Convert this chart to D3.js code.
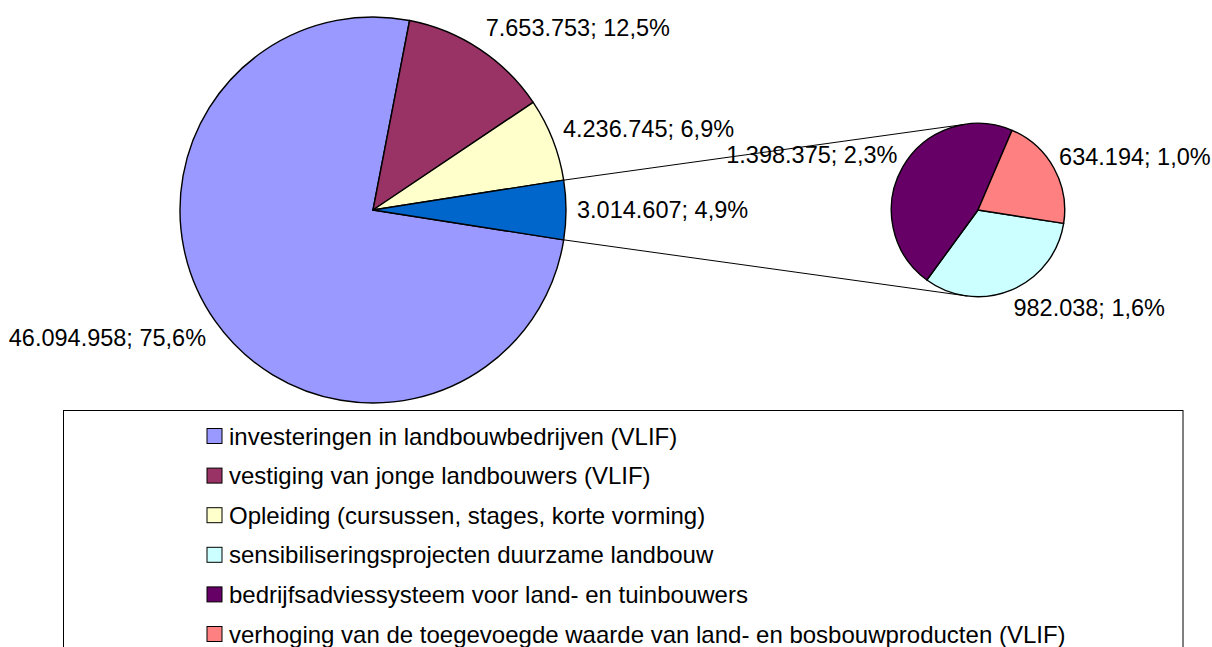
<!DOCTYPE html>
<html>
<head>
<meta charset="utf-8">
<script src="https://cdn.jsdelivr.net/npm/d3@7"></script>
<style>
  body { margin: 0; background: #fff; }
  svg { display: block; font-family: "Liberation Sans", Arial, sans-serif; }
</style>
</head>
<body>
<svg id="chart"></svg>
<script>
// main pie categories (the last one is the "other" slice split into the small pie)
const mainCategories = [
    "investeringen in landbouwbedrijven (VLIF)",
    "vestiging van jonge landbouwers (VLIF)",
    "Opleiding (cursussen, stages, korte vorming)"
];
const mainValues = [46094958, 7653753, 4236745];
const mainColors = ["#9999FF", "#993366", "#FFFFCC"];
const otherColor = "#0066CC";

const subCategories = [
    "sensibiliseringsprojecten duurzame landbouw",
    "bedrijfsadviessysteem voor land- en tuinbouwers",
    "verhoging van de toegevoegde waarde van land- en bosbouwproducten (VLIF)"
];
const subValues = [982038, 1398375, 634194];
const subColors = ["#CCFFFF", "#660066", "#FF8080"];

const width = 1212, height = 647;
const svg = d3.select("#chart").attr("width", width).attr("height", height);

const nl = d3.formatLocale({decimal: ",", thousands: ".", grouping: [3], currency: ["€", ""]});
const fmtNum = nl.format(",.0f");
const fmtPct = nl.format(".1%");

const otherValue = d3.sum(subValues);
const total = d3.sum(mainValues) + otherValue;

const mainData = mainValues.map((v, i) => ({value: v, color: mainColors[i]}));
mainData.push({value: otherValue, color: otherColor});
const subData = subValues.map((v, i) => ({value: v, color: subColors[i]}));

const otherFrac = otherValue / total;
const start = Math.PI / 2 + Math.PI * otherFrac;

const mainPie = d3.pie().sort(null).value(d => d.value).startAngle(start).endAngle(start + 2 * Math.PI);
const subPie = d3.pie().sort(null).value(d => d.value).startAngle(start).endAngle(start + 2 * Math.PI);

const main = {cx: 373, cy: 210, r: 193, offset: 11};
const sub = {cx: 978, cy: 210, r: 86.7, offset: 6};

const fontSize = 23.5;

function drawPie(cfg, arcs) {
    const g = svg.append("g").attr("transform", `translate(${cfg.cx},${cfg.cy})`);
    const arc = d3.arc().innerRadius(0).outerRadius(cfg.r);
    g.selectAll("path")
        .data(arcs)
        .join("path")
        .attr("d", arc)
        .attr("fill", d => d.data.color)
        .attr("stroke", "#000")
        .attr("stroke-width", 1.4)
        .attr("stroke-linejoin", "round");
    return g;
}

function drawLabels(cfg, arcs) {
    const boxH = fontSize * 1.05;
    svg.append("g").selectAll("text")
        .data(arcs)
        .join("text")
        .attr("font-size", fontSize)
        .attr("fill", "#000")
        .each(function(d) {
            const a = (d.startAngle + d.endAngle) / 2;
            const rr = cfg.r + cfg.offset;
            const px = cfg.cx + rr * Math.sin(a);
            const py = cfg.cy - rr * Math.cos(a);
            const c = Math.max(-1, Math.min(1, Math.cos(a) * 1.5));
            d3.select(this)
                .attr("x", px)
                .attr("y", py - c * boxH / 2)
                .attr("dy", "0.36em")
                .attr("text-anchor", Math.sin(a) >= 0 ? "start" : "end")
                .text(`${fmtNum(d.data.value)}; ${fmtPct(d.data.value / total)}`);
        });
}

const mainArcs = mainPie(mainData);
const subArcs = subPie(subData);

// connector lines between the "other" slice and the small pie
const otherArc = mainArcs[mainArcs.length - 1];
const pt = (cfg, a) => [cfg.cx + cfg.r * Math.sin(a), cfg.cy - cfg.r * Math.cos(a)];
const connectors = [
    [pt(main, otherArc.startAngle), pt(sub, -10 * Math.PI / 180)],
    [pt(main, otherArc.endAngle), pt(sub, 187 * Math.PI / 180)]
];

drawPie(main, mainArcs);
drawPie(sub, subArcs);

svg.append("g").selectAll("line")
    .data(connectors)
    .join("line")
    .attr("x1", d => d[0][0]).attr("y1", d => d[0][1])
    .attr("x2", d => d[1][0]).attr("y2", d => d[1][1])
    .attr("stroke", "#000")
    .attr("stroke-width", 1);

drawLabels(main, mainArcs);
drawLabels(sub, subArcs);

// legend
const legendItems = mainCategories.map((c, i) => ({name: c, color: mainColors[i]}))
    .concat(subCategories.map((c, i) => ({name: c, color: subColors[i]})));

const legend = svg.append("g");
legend.append("rect")
    .attr("x", 63.5).attr("y", 410.5)
    .attr("width", 1119.5).attr("height", 300)
    .attr("fill", "#fff")
    .attr("stroke", "#000")
    .attr("stroke-width", 1);

const rowY = d3.scalePoint().domain(d3.range(legendItems.length)).range([436, 634]);

const rows = legend.selectAll("g.row")
    .data(legendItems)
    .join("g")
    .attr("class", "row")
    .attr("transform", (d, i) => `translate(207,${rowY(i)})`);

rows.append("rect")
    .attr("x", 0).attr("y", -7.5)
    .attr("width", 15).attr("height", 15)
    .attr("fill", d => d.color)
    .attr("stroke", "#000")
    .attr("stroke-width", 1);

rows.append("text")
    .attr("x", 22)
    .attr("dy", "0.36em")
    .attr("font-size", 24)
    .text(d => d.name);
</script>
</body>
</html>
